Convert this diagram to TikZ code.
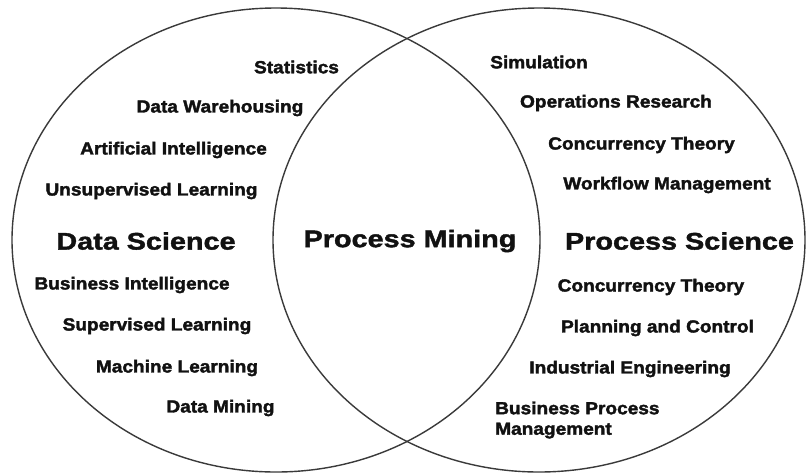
\documentclass[tikz,border=0pt]{standalone}
\usepackage{fontspec}
\setmainfont{Liberation Sans}
% wide, heavy cuts for the labels
\newfontfamily\topicfont{Liberation Sans}[FakeStretch=1.09, FakeBold=2]
\newfontfamily\titlefont{Liberation Sans}[FakeStretch=1.2, FakeBold=1.6]
\usetikzlibrary{shapes.geometric}
\definecolor{ink}{HTML}{111111}
\definecolor{rim}{HTML}{3A3A3A}
\begin{document}
\begin{tikzpicture}[x=1pt,y=-1pt,
  field/.style={draw=rim, line width=1.4pt, ellipse, inner sep=0pt},
  topic/.style={text=ink, inner sep=0pt, font=\topicfont\fontsize{17.5}{20}\selectfont\bfseries},
  title/.style={text=ink, inner sep=0pt, font=\titlefont\fontsize{24}{28}\selectfont\bfseries}]
\useasboundingbox (0,0) rectangle (806,475);
\fill[white] (0,0) rectangle (806,475);

% the two overlapping fields
\node[field, minimum width=528pt, minimum height=464pt] (ds) at (276,240) {};
\node[field, minimum width=532pt, minimum height=464pt] (ps) at (539,240) {};

% headings
\node[title] (tds) at (146,241) {Data Science};
\node[title] (tpm) at (410,241) {Process Mining};
\node[title] (tps) at (679.5,241) {Process Science};

% data science topics
\node[topic] (d1) at (296.5,67) {Statistics};
\node[topic] (d2) at (220,108) {Data Warehousing};
\node[topic] (d3) at (173.5,150) {Artificial Intelligence};
\node[topic] (d4) at (151.5,191) {Unsupervised Learning};
\node[topic] (d5) at (132,285) {Business Intelligence};
\node[topic] (d6) at (157,326) {Supervised Learning};
\node[topic] (d7) at (177,368) {Machine Learning};
\node[topic] (d8) at (220.5,408) {Data Mining};

% process science topics
\node[topic] (p1) at (539,62) {Simulation};
\node[topic] (p2) at (616,103) {Operations Research};
\node[topic] (p3) at (641.5,145) {Concurrency Theory};
\node[topic] (p4) at (667,185) {Workflow Management};
\node[topic] (p5) at (651,287) {Concurrency Theory};
\node[topic] (p6) at (657.5,328) {Planning and Control};
\node[topic] (p7) at (630,369) {Industrial Engineering};
\node[topic, anchor=west, align=left, font=\topicfont\fontsize{17.5}{20.5}\selectfont\bfseries] (p8) at (495,420) {Business Process\\Management};
\end{tikzpicture}
\end{document}
